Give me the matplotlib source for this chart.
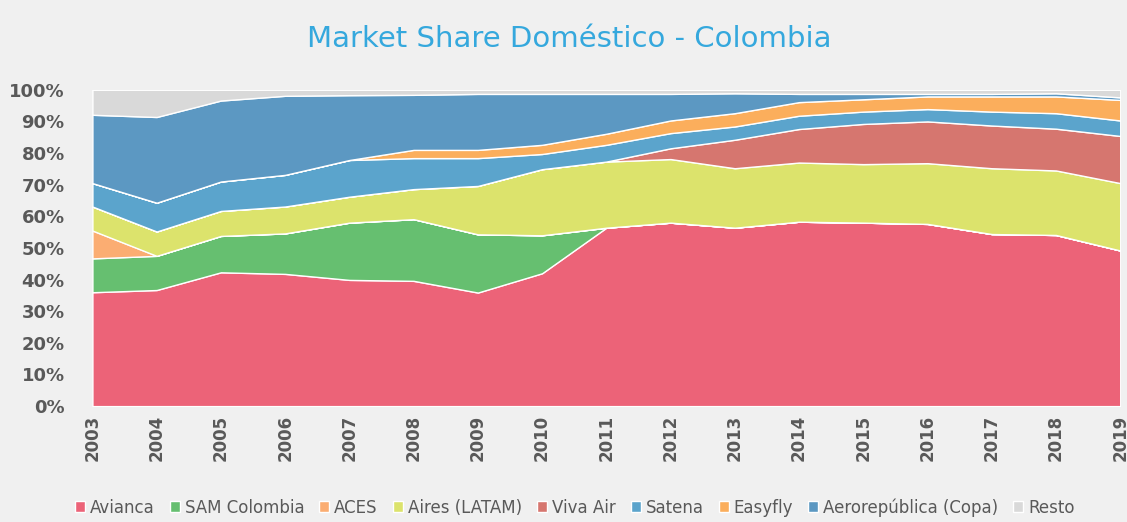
import numpy as np
import matplotlib
matplotlib.use('Agg')

import matplotlib.pyplot as plt
from matplotlib.ticker import PercentFormatter

years = list(range(2003, 2020))

avianca = [36.0, 36.7, 42.3, 41.8, 39.9, 39.6, 35.9, 42.0, 56.4, 58.0, 56.4, 58.3, 58.0, 57.6, 54.4, 54.1, 49.2]
sam = [10.7, 10.8, 11.5, 12.8, 18.1, 19.5, 18.4, 12.0, 0, 0, 0, 0, 0, 0, 0, 0, 0]
aces = [8.8, 0, 0, 0, 0, 0, 0, 0, 0, 0, 0, 0, 0, 0, 0, 0, 0]
aires = [7.6, 7.7, 7.9, 8.5, 8.2, 9.5, 15.3, 20.9, 20.9, 20.1, 18.8, 18.7, 18.5, 19.2, 20.8, 20.4, 21.3]
viva_air = [0, 0, 0, 0, 0, 0, 0, 0, 0, 3.4, 9.0, 10.6, 12.7, 13.2, 13.5, 13.2, 14.9]
satena = [7.4, 9.1, 9.3, 10.0, 11.6, 9.8, 8.8, 4.8, 5.3, 4.8, 4.2, 4.2, 3.9, 3.9, 4.4, 4.9, 4.9]
easyfly = [0, 0, 0, 0, 0, 2.6, 2.6, 2.9, 3.5, 4.0, 4.2, 4.3, 3.9, 4.0, 4.8, 5.3, 6.5]
aerorepublica = [21.6, 27.1, 25.6, 25.0, 20.5, 17.4, 17.7, 16.1, 12.6, 8.4, 6.3, 2.6, 1.7, 0.8, 0.8, 1.0, 0.8]

series = [avianca, sam, aces, aires, viva_air, satena, easyfly, aerorepublica]
resto = list(100 - np.sum(series, axis=0))
series.append(resto)

labels = ['Avianca', 'SAM Colombia', 'ACES', 'Aires (LATAM)', 'Viva Air', 'Satena',
          'Easyfly', 'Aerorepública (Copa)', 'Resto']
colors = ['#EC6378', '#66BF70', '#FBAD72', '#DCE36C', '#D6766F', '#5BA4CC',
          '#FBAE5C', '#5C98C2', '#D9D9D9']

bg = '#F0F0F0'
fig = plt.figure(figsize=(11.27, 5.22), dpi=100, facecolor=bg)
ax = fig.add_axes([0.082, 0.222, 0.912, 0.606])
ax.set_facecolor(bg)

ax.stackplot(years, series, labels=labels, colors=colors, edgecolor='white', linewidth=1.0)

ax.set_xlim(2003, 2019)
ax.set_ylim(0, 100)
ax.set_xticks(years)
ax.set_xticklabels([str(y) for y in years], rotation=90, fontsize=12,
                   fontweight='bold', color='#595959')
ax.set_yticks(range(0, 101, 10))
ax.yaxis.set_major_formatter(PercentFormatter(decimals=0))
for t in ax.get_yticklabels():
    t.set_fontsize(13)
    t.set_fontweight('bold')
    t.set_color('#595959')
ax.tick_params(axis='y', length=0, pad=20)
ax.tick_params(axis='x', length=0, pad=6)
for s in ax.spines.values():
    s.set_visible(False)

fig.text(0.505, 0.926, 'Market Share Doméstico - Colombia', ha='center', va='center',
         fontsize=21, color='#35A8DD', family='DejaVu Sans')

handles, labs = ax.get_legend_handles_labels()
fig.legend(handles, labs, loc='center', bbox_to_anchor=(0.51, 0.028), ncol=9,
           frameon=False, fontsize=12, handlelength=0.6, handleheight=0.6,
           handletextpad=0.3, columnspacing=0.9, labelcolor='#595959')

fig.savefig('out.png', dpi=100, facecolor=bg)
